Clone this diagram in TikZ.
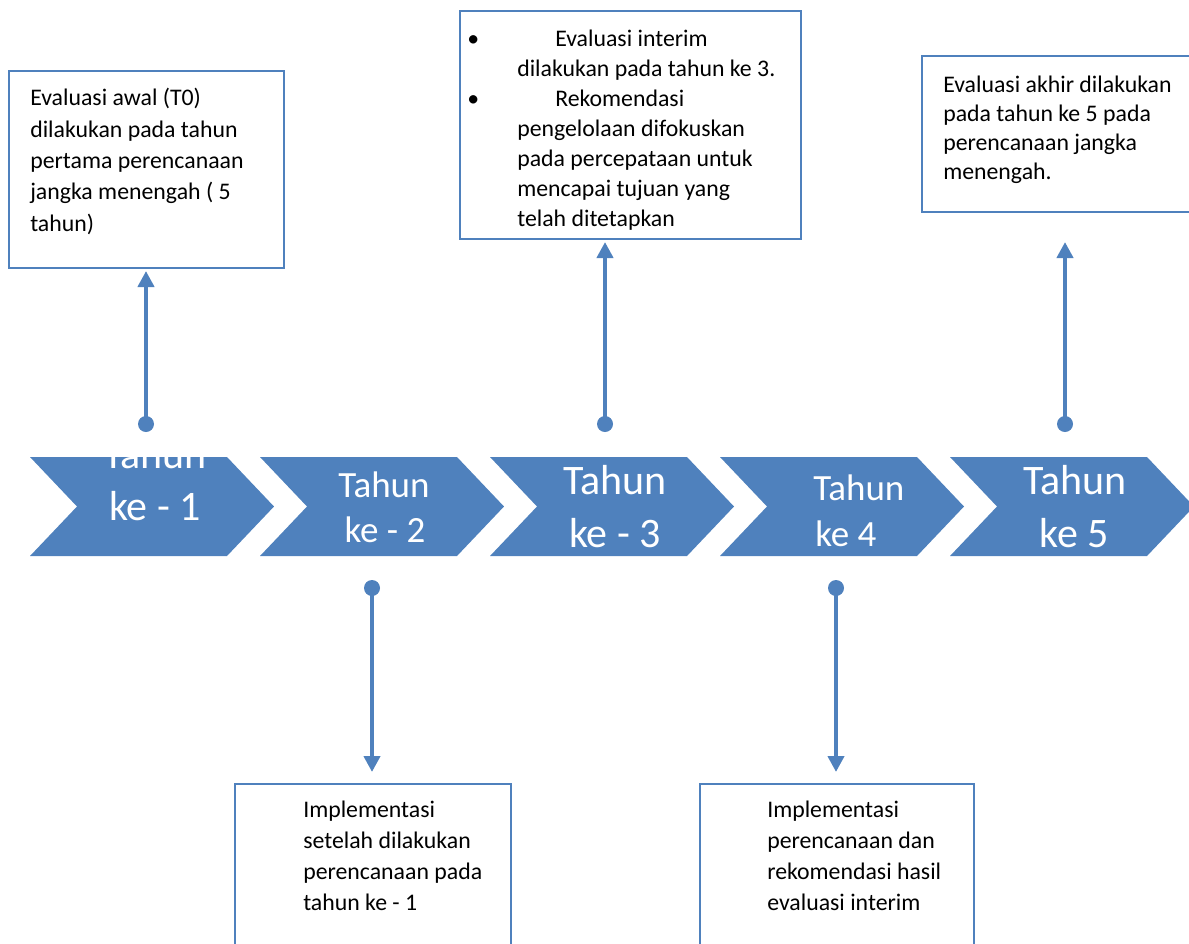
\documentclass[tikz,border=0pt]{standalone}
\usepackage{fontspec}
\setmainfont{Carlito}
\usetikzlibrary{arrows.meta}
\definecolor{officeblue}{RGB}{79,129,189}
\newlength\pxl
\setlength\pxl{0.75pt}
\begin{document}
\begin{tikzpicture}[x=0.75pt,y=-0.75pt,
  chev/.style={fill=officeblue},
  yrbig/.style={text=white, inner sep=0pt, anchor=base, font=\fontsize{31.5}{36}\selectfont},
  yrsmall/.style={text=white, inner sep=0pt, anchor=base, font=\fontsize{27.75}{32}\selectfont},
  yrleft/.style={yrsmall, anchor=base west},
  frame/.style={draw=officeblue, line width=1.4pt, anchor=north west, inner sep=0pt},
  info/.style={inner sep=0pt, anchor=base west, align=left, text=black},
  knob/.style={circle, fill=officeblue, minimum size=12pt, inner sep=0pt},
  stem/.style={draw=officeblue, line width=3.4pt, -{Triangle[width=12pt,length=12pt]}}
]
\useasboundingbox (0,0) rectangle (1189,943);
\clip (0,0) rectangle (1189,943);

% year chevrons
\foreach \i in {0,...,4}{
  \fill[chev] ({30+230*\i},457) -- ({227+230*\i},457) -- ({274+230*\i},506.5)
    -- ({227+230*\i},556) -- ({30+230*\i},556) -- ({77+230*\i},506.5) -- cycle;
}

% year labels (the first one overflows the chevron and is cut off)
\begin{scope}
  \clip (30,457) -- (227,457) -- (274,506.5) -- (227,556) -- (30,556) -- (77,506.5) -- cycle;
  \node[yrbig] (y1a) at (155,468) {Tahun};
  \node[yrbig] (y1b) at (155,520) {ke - 1};
\end{scope}
\node[yrsmall] (y2a) at (384,497) {Tahun};
\node[yrsmall] (y2b) at (385,542) {ke - 2};
\node[yrbig] (y3a) at (615,494) {Tahun};
\node[yrbig] (y3b) at (615,547) {ke - 3};
\node[yrleft] (y4a) at (813,500) {Tahun};
\node[yrleft] (y4b) at (815,546) {ke 4};
\node[yrbig] (y5a) at (1075,494) {Tahun};
\node[yrbig] (y5b) at (1074,547) {ke 5};

% note frames
\node[frame, minimum width=206.25pt, minimum height=147.75pt] (b1) at (8,70) {};
\node[frame, minimum width=255.75pt, minimum height=171pt] (b3) at (459,10) {};
\node[frame, minimum width=208.5pt, minimum height=117pt] (b5) at (921,55) {};
\node[frame, minimum width=207pt, minimum height=127.5pt] (b2) at (234,783) {};
\node[frame, minimum width=205.5pt, minimum height=127.5pt] (b4) at (699,783) {};

% note texts, each placed by the baseline of its last line
\node[info, font=\fontsize{17.85}{23.5}\selectfont] (t1) at (30,231.3)
  {Evaluasi awal (T0)\\dilakukan pada tahun\\pertama perencanaan\\jangka menengah ( 5\\tahun)};
\node[info, font=\fontsize{17.85}{22.6}\selectfont] (t3) at (517,226.8)
  {\llap{\textbullet\hspace*{38\pxl}}\hspace*{38\pxl}Evaluasi interim\\
   dilakukan pada tahun ke 3.\\
   \llap{\textbullet\hspace*{38\pxl}}\hspace*{38\pxl}Rekomendasi\\
   pengelolaan difokuskan\\pada percepataan untuk\\mencapai tujuan yang\\telah ditetapkan};
\node[info, font=\fontsize{17.85}{21.75}\selectfont] (t5) at (943,179)
  {Evaluasi akhir dilakukan\\pada tahun ke 5 pada\\perencanaan jangka\\menengah.};
\node[info, font=\fontsize{17.85}{23.25}\selectfont] (t2) at (303,910)
  {Implementasi\\setelah dilakukan\\perencanaan pada\\tahun ke - 1};
\node[info, font=\fontsize{17.85}{23.25}\selectfont] (t4) at (767,910)
  {Implementasi\\perencanaan dan\\rekomendasi hasil\\evaluasi interim};

% pins from the timeline to the notes
\node[knob] (k1) at (146,424) {};
\node[knob] (k3) at (605,424) {};
\node[knob] (k5) at (1065,424) {};
\node[knob] (k2) at (372,588) {};
\node[knob] (k4) at (836,588) {};
\coordinate (h1) at (146,271);
\coordinate (h3) at (605,242);
\coordinate (h5) at (1065,242);
\coordinate (h2) at (372,772);
\coordinate (h4) at (836,772);
\draw[stem] (k1.center) -- (h1);
\draw[stem] (k3.center) -- (h3);
\draw[stem] (k5.center) -- (h5);
\draw[stem] (k2.center) -- (h2);
\draw[stem] (k4.center) -- (h4);
\end{tikzpicture}
\end{document}
